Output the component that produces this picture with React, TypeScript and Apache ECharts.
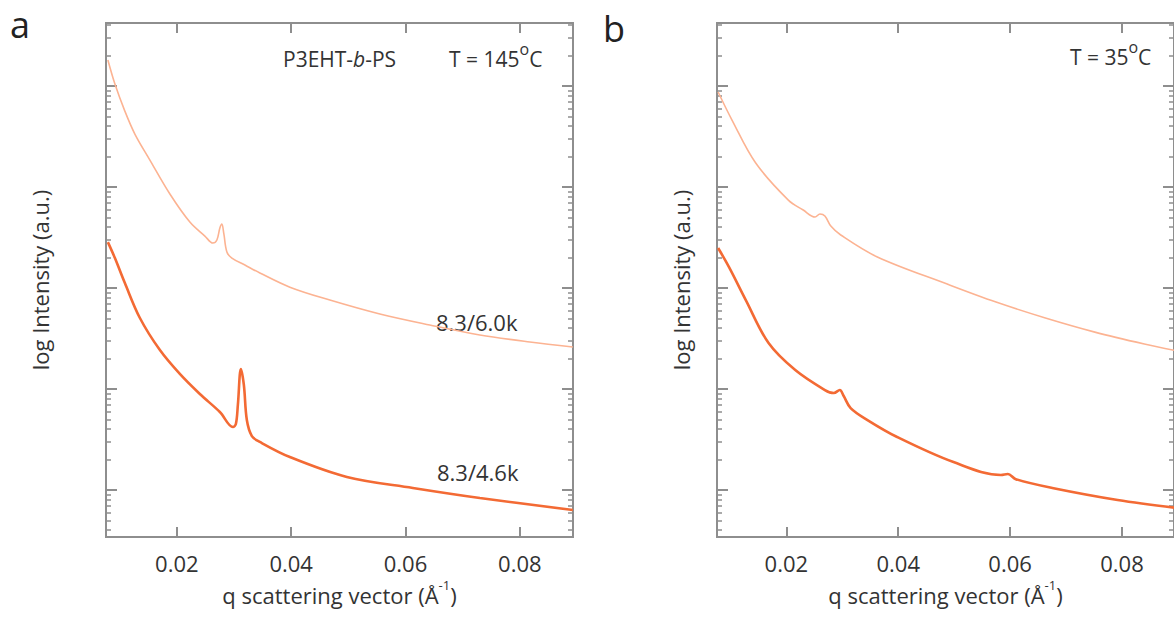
import { useEffect, useRef } from "react";
import * as echarts from "echarts";

// q (1/Å) and intensity (a.u.)
const aUpper: [number, number][] = [
  [0.00793, 18100], [0.00916, 10470], [0.0109, 5650], [0.01265, 3350], [0.01528, 1850],
  [0.01878, 853], [0.02227, 450], [0.0249, 327], [0.0263, 279], [0.027, 299],
  [0.02752, 393], [0.02787, 430], [0.02822, 343], [0.02875, 227], [0.02962, 198],
  [0.0319, 169], [0.03452, 141], [0.03977, 102], [0.04676, 76], [0.05551, 55.3],
  [0.06425, 43], [0.073, 34.3], [0.08175, 29.2], [0.08927, 26.1],
];
const aLower: [number, number][] = [
  [0.00793, 285], [0.00916, 198], [0.0109, 112], [0.01353, 50.5], [0.01703, 24.3],
  [0.02052, 14.1], [0.02402, 8.92], [0.02752, 5.92], [0.0298, 4.2], [0.03032, 4.5],
  [0.03067, 6.95], [0.0312, 15.8], [0.03172, 10.96], [0.03224, 4.93], [0.03312, 3.42],
  [0.03452, 2.99], [0.03977, 2.12], [0.04974, 1.346], [0.06128, 1.047], [0.073, 0.833],
  [0.08927, 0.634],
];
const bUpper: [number, number][] = [
  [0.0078, 8730], [0.01028, 4606], [0.01452, 1729], [0.02035, 743], [0.02301, 592],
  [0.02513, 505], [0.02601, 541], [0.02689, 517], [0.02795, 411], [0.02972, 335],
  [0.03626, 203], [0.04864, 110], [0.05748, 72.6], [0.06631, 50.5], [0.07515, 36.6],
  [0.08399, 27.9], [0.0899, 23.8],
];
const bLower: [number, number][] = [
  [0.0078, 249], [0.00975, 161], [0.01275, 76], [0.01682, 28.5], [0.02159, 15.4],
  [0.02689, 9.77], [0.02849, 9.12], [0.02955, 9.77], [0.03025, 8.53], [0.03149, 6.48],
  [0.0345, 4.93], [0.0398, 3.35], [0.04988, 1.89], [0.05836, 1.41], [0.0596, 1.44],
  [0.06101, 1.28], [0.06755, 1.047], [0.07922, 0.796], [0.0899, 0.663],
];

const qTicks = [0.02, 0.04, 0.06, 0.08];
const decadeTicks = [1, 10, 100, 1000, 10000];
const mantissas = [2, 3, 4, 5, 6, 7, 8, 9];
const minorDecades = [0.1, 1, 10, 100, 1000, 10000];

const curveLabels = ["8.3/6.0k", "8.3/4.6k"];
const panelTitles = ["a", "b"];
const tempLabels = ["145", "35"];
const sampleLabel = "P3EHT-";

const FONT = "'Open Sans', 'DejaVu Sans', sans-serif";
const TXT = "#333333";
const AXIS = "#8e8e8e";
const LIGHT = "#fcb392";
const DARK = "#f36a34";

const Q_MIN = 0.0076;
const Q_MAX = 0.0893;
const I_MIN = 0.3425;
const I_MAX = 42100;

// the y axis is a value axis in log10 space (log intensity)
const lg = (v: number) => Math.log10(v);
const toLog = (pts: [number, number][]) => pts.map(([q, v]) => [q, lg(v)]);
const majorLog = decadeTicks.map(lg);
const minorLog = minorDecades.flatMap((d) => mantissas.map((m) => lg(m * d)));

export default function App() {
  const ref = useRef<HTMLDivElement>(null);
  useEffect(() => {
    document.body.style.margin = "0";
    if (!ref.current) return;
    const chart = echarts.init(ref.current, null, { renderer: "svg" });

    const lefts = [106, 717];
    const width = 467;
    const nameGaps = [55, 25];

    const grid: any[] = [];
    const xAxis: any[] = [];
    const yAxis: any[] = [];
    const series: any[] = [];
    const datasets = [
      [aUpper, aLower],
      [bUpper, bLower],
    ];

    lefts.forEach((left, i) => {
      grid.push({ left, top: 23, width, height: 514 });
      const axLine = { show: true, onZero: false, lineStyle: { color: AXIS, width: 2 } };
      xAxis.push({
        type: "value", gridIndex: i, position: "bottom", min: Q_MIN, max: Q_MAX,
        axisLine: axLine, splitLine: { show: false },
        axisTick: { show: true, inside: true, length: 10, customValues: qTicks, lineStyle: { color: AXIS, width: 2 } },
        axisLabel: { show: true, customValues: qTicks, margin: 15, fontSize: 22, fontFamily: FONT, color: TXT, formatter: (v: number) => v.toFixed(2) },
        name: "q scattering vector (Å{sup|-1})",
        nameLocation: "middle",
        nameGap: 40,
        nameTextStyle: {
          fontSize: 22, fontFamily: FONT, color: TXT, lineHeight: 32,
          rich: { sup: { fontSize: 13, fontFamily: FONT, color: TXT, verticalAlign: "top", lineHeight: 14 } },
        },
      });
      xAxis.push({
        type: "value", gridIndex: i, position: "top", min: Q_MIN, max: Q_MAX,
        axisLine: axLine, splitLine: { show: false },
        axisTick: { show: true, inside: true, length: 10, customValues: qTicks, lineStyle: { color: AXIS, width: 2 } },
        axisLabel: { show: false },
      });
      const yBase = (position: string, major: boolean, extra: any = {}) => ({
        type: "value", gridIndex: i, position, min: lg(I_MIN), max: lg(I_MAX),
        axisLine: axLine,
        splitLine: { show: false },
        axisTick: {
          show: true, inside: true, length: major ? 11 : 5,
          customValues: major ? majorLog : minorLog,
          lineStyle: { color: AXIS, width: major ? 2 : 1.5 },
        },
        axisLabel: { show: false },
        ...extra,
      });
      const yStart = yAxis.length;
      yAxis.push(
        yBase("left", true, {
          name: "log Intensity (a.u.)",
          nameLocation: "middle",
          nameGap: nameGaps[i],
          nameRotate: 90,
          nameTextStyle: { fontSize: 22, fontFamily: FONT, color: TXT },
        })
      );
      yAxis.push(yBase("left", false));
      yAxis.push(yBase("right", true));
      yAxis.push(yBase("right", false));

      const [up, low] = datasets[i];
      series.push({
        type: "line", xAxisIndex: i * 2, yAxisIndex: yStart, data: toLog(up),
        showSymbol: false, smooth: 0.35,
        lineStyle: { color: LIGHT, width: 1.6 }, silent: true,
      });
      series.push({
        type: "line", xAxisIndex: i * 2, yAxisIndex: yStart, data: toLog(low),
        showSymbol: false, smooth: 0.35,
        lineStyle: { color: DARK, width: 2.6 }, silent: true,
      });
    });

    const txt = (text: string, x: number, y: number, extra: any = {}) => ({
      type: "text", x, y, silent: true,
      style: {
        text, fill: TXT, font: `22px ${FONT}`,
        align: "left", textAlign: "left", verticalAlign: "middle", textVerticalAlign: "middle",
        ...extra,
      },
    });
    const degRich = {
      d: { fontSize: 16, fontFamily: FONT, fill: TXT, color: TXT, verticalAlign: "top", lineHeight: 13 },
      n: { fontSize: 21, fontFamily: FONT, fill: TXT, color: TXT, lineHeight: 36 },
      i: { fontSize: 21, fontFamily: FONT, fill: TXT, color: TXT, lineHeight: 36, fontStyle: "italic" },
    };

    const graphic = [
      txt(panelTitles[0], 10, 24, { font: `36px ${FONT}`, fill: "#222" }),
      txt(panelTitles[1], 603, 28, { font: `36px ${FONT}`, fill: "#222" }),
      txt(`{n|${sampleLabel}}{i|b}{n|-PS}`, 283, 59, { rich: degRich }),
      txt(`{n|T = ${tempLabels[0]}}{d|o}{n|C}`, 449, 59, { rich: degRich }),
      txt(`{n|T = ${tempLabels[1]}}{d|o}{n|C}`, 1070, 57, { rich: degRich }),
      txt(curveLabels[0], 436, 322),
      txt(curveLabels[1], 437, 472),
    ];

    chart.setOption({
      animation: false,
      backgroundColor: "#ffffff",
      grid, xAxis, yAxis, series, graphic,
    });
    return () => chart.dispose();
  }, []);
  return <div ref={ref} style={{ width: 1174, height: 634 }} />;
}
